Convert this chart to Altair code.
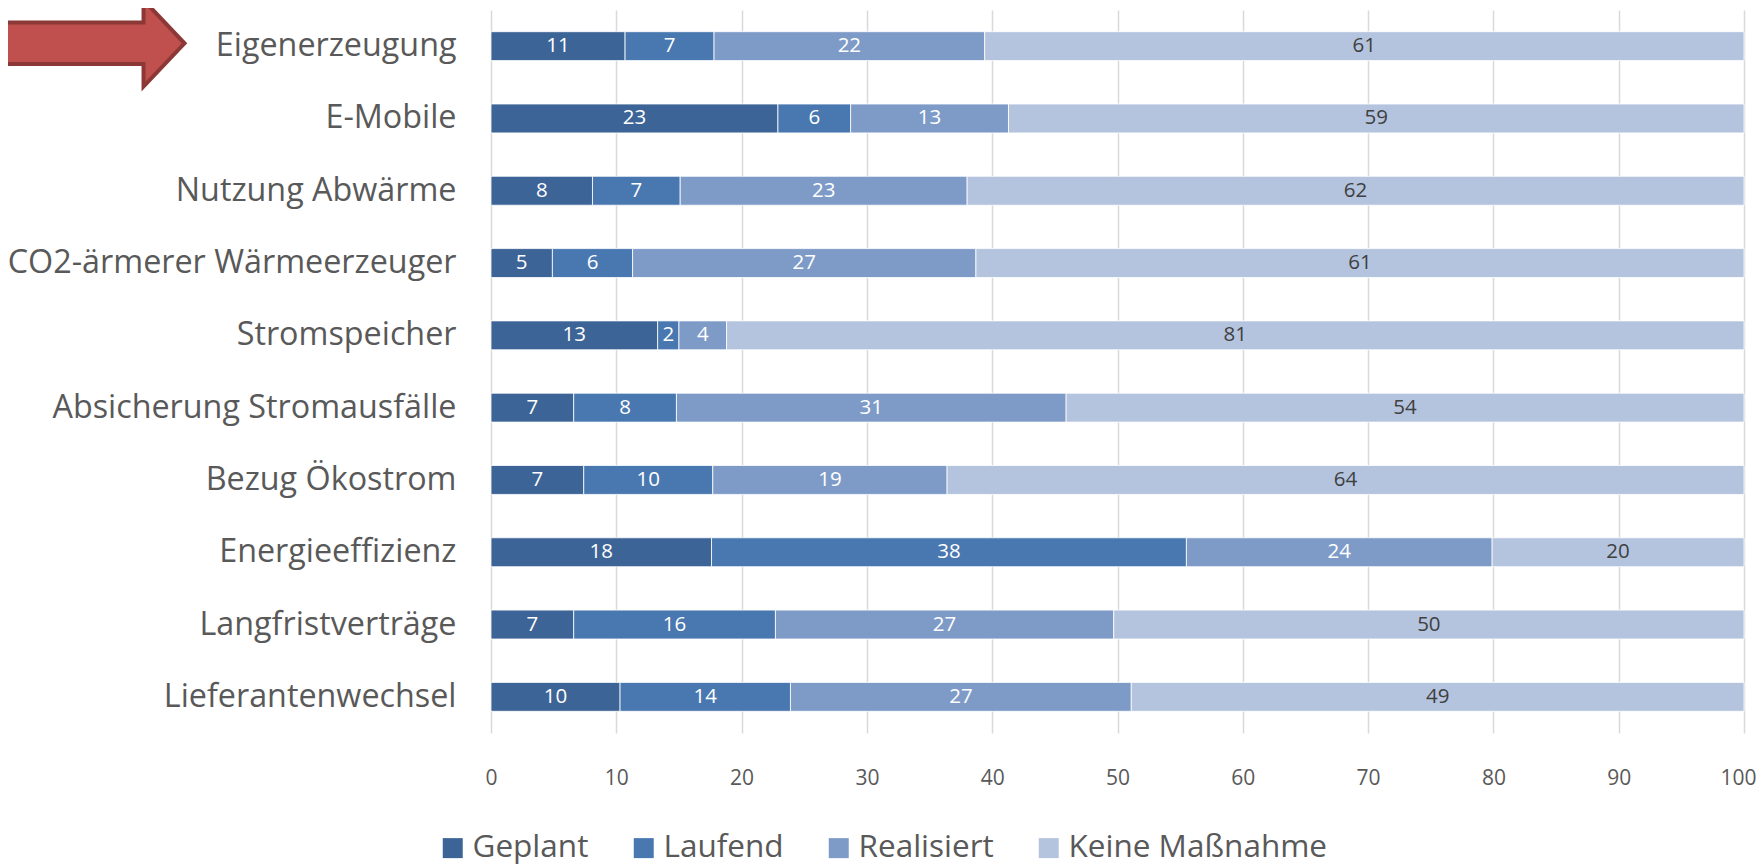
import altair as alt
import pandas as pd

categories = [
    "Eigenerzeugung",
    "E-Mobile",
    "Nutzung Abwärme",
    "CO2-ärmerer Wärmeerzeuger",
    "Stromspeicher",
    "Absicherung Stromausfälle",
    "Bezug Ökostrom",
    "Energieeffizienz",
    "Langfristverträge",
    "Lieferantenwechsel",
]
statuses = ["Geplant", "Laufend", "Realisiert", "Keine Maßnahme"]
colors = ["#3D6496", "#4978B0", "#7E9BC8", "#B4C4DE"]

geplant = [10.7, 22.9, 8.1, 4.9, 13.3, 6.6, 7.4, 17.6, 6.6, 10.3]
laufend = [7.1, 5.8, 7.0, 6.4, 1.7, 8.2, 10.3, 37.9, 16.1, 13.6]
realisiert = [21.6, 12.6, 22.9, 27.4, 3.8, 31.1, 18.7, 24.4, 27.0, 27.2]
keine = [60.6, 58.7, 62.0, 61.3, 81.2, 54.1, 63.6, 20.1, 50.3, 48.9]

tick_values = [0, 10, 20, 30, 40, 50, 60, 70, 80, 90, 100]

rows = []
series = [geplant, laufend, realisiert, keine]
for i, c in enumerate(categories):
    for j, s in enumerate(statuses):
        rows.append({"cat": c, "status": s, "ord": j, "value": series[j][i]})
df = pd.DataFrame(rows)

base = alt.Chart(df).transform_stack(
    stack="value", groupby=["cat"], as_=["x0", "x1"],
    sort=[alt.SortField("ord", order="ascending")]
).transform_calculate(mid="(datum.x0 + datum.x1) / 2")

y_enc = alt.Y(
    "cat:N", sort=categories,
    scale=alt.Scale(paddingInner=0.6, paddingOuter=0.3),
    axis=alt.Axis(title=None, ticks=False, domain=False, grid=False,
                  labelFontSize=32.3, labelColor="#595959", labelPadding=35,
                  labelLimit=800),
)

bars = base.mark_bar(stroke="white", strokeWidth=0.8).encode(
    x=alt.X("x0:Q", scale=alt.Scale(domain=[0, 100], nice=False),
            axis=alt.Axis(title=None, values=tick_values, grid=True,
                          gridColor="#D9D9D9", gridWidth=1.5, domain=False,
                          ticks=False, labelFontSize=21, labelColor="#595959",
                          labelPadding=34, labelFlush=False, labelOverlap=False,
                          labelOffset={"condition": {"test": "datum.value == 100", "value": -6}, "value": 0})),
    x2="x1:Q",
    y=y_enc,
    color=alt.Color("status:N", scale=alt.Scale(domain=statuses, range=colors),
                    legend=alt.Legend(title=None, orient="none", legendX=-54,
                                      legendY=822, direction="horizontal",
                                      symbolType="square", symbolSize=400,
                                      symbolStrokeWidth=0, labelFontSize=31.5,
                                      labelColor="#595959", labelOffset=4,
                                      columnPadding=39, padding=0,
                                      labelLimit=400)),
)

labels = base.mark_text(fontSize=20.5, baseline="middle", align="center").encode(
    x=alt.X("mid:Q"),
    y=alt.Y("cat:N", sort=categories),
    text=alt.Text("value:Q", format=".0f"),
    color=alt.condition(alt.datum.status == "Keine Maßnahme",
                        alt.value("#404040"), alt.value("white")),
)

arrow_path = "M-1,-0.217L0.571,-0.217L0.571,-0.453L1,0L0.571,0.453L0.571,0.217L-1,0.217Z"
arrow = alt.Chart(pd.DataFrame({"a": [0]})).mark_point(
    shape=arrow_path, size=36481, filled=True, fill="#C0504D",
    stroke="#8C3836", strokeWidth=4, opacity=1, fillOpacity=1, strokeOpacity=1,
).encode(x=alt.value(-402), y=alt.value(33.3))

chart = alt.layer(bars, labels, arrow).properties(
    width=1253, height=723,
    padding={"left": 483, "top": 2, "right": 12, "bottom": 133},
    autosize=alt.AutoSizeParams(type="none"),
).configure(font="Open Sans").configure_view(stroke=None)

chart.save("out.html", embed_options={"renderer": "svg", "actions": False})
